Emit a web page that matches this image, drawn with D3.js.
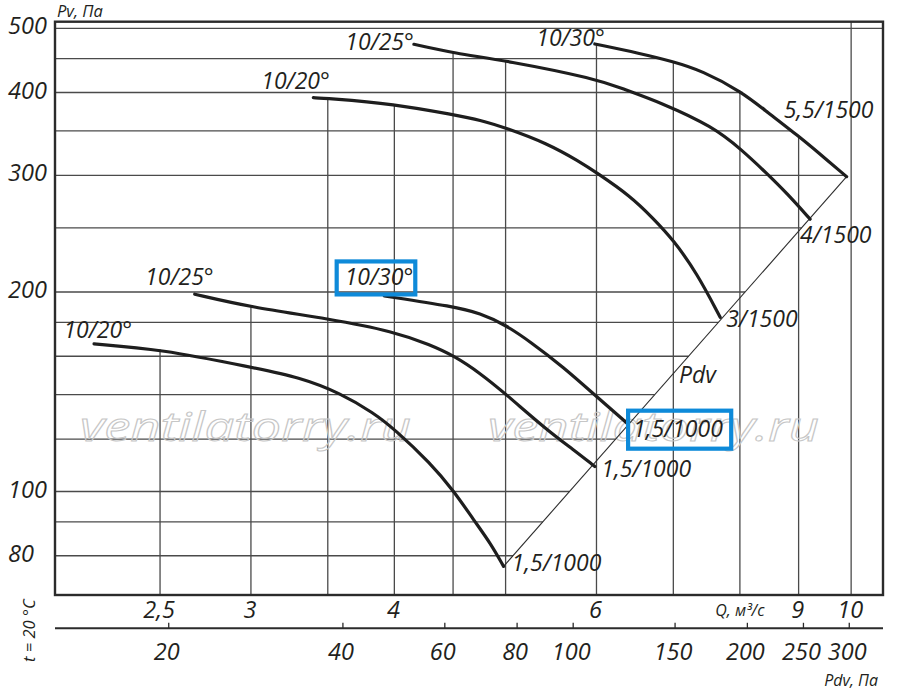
<!DOCTYPE html>
<html><head><meta charset="utf-8">
<script src="https://cdn.jsdelivr.net/npm/d3@7"></script>
<style>
body{margin:0;background:#fff}
svg text{font-family:"Open Sans",sans-serif;font-style:italic;fill:#231f20}
</style></head><body>
<svg id="chart" width="900" height="692"></svg>
<script>
// ---------- DATA ----------
// Q grid lines (m3/s) and labelled Q ticks
const qGrid = [2.5, 3, 3.5, 4, 4.5, 5, 6, 7, 8, 9, 10];
const qLabelVals = [2.5, 3, 4, 6, 9, 10];
const qLabelText = ["2,5", "3", "4", "6", "9", "10"];
// Pv grid lines (Pa) and labelled Pv ticks
const pGrid = [80, 90, 100, 120, 140, 160, 180, 200, 250, 300, 350, 400, 450, 500];
const pLabelVals = [80, 100, 200, 300, 400, 500];
// Pdv axis ticks (Pa)
const pdvTicks = [20, 40, 60, 80, 100, 150, 200, 250, 300];

// curves: 1,5/1000 motor
const q20a = [2.19, 2.5, 3.0, 3.31, 3.59, 3.84, 4.0, 4.3, 4.51, 4.69, 4.85, 4.98];
const p20a = [167, 164, 154, 148.7, 140.7, 131.3, 124.2, 110.4, 100, 90.6, 83.6, 77.1];
const q25a = [2.68, 3.0, 3.51, 4.0, 4.3, 4.51, 4.75, 5.0, 5.43, 5.73, 5.98];
const p25a = [198.5, 189.7, 182.2, 174.3, 166.4, 160.2, 150.9, 140.4, 123.9, 115.6, 109.1];
const q30a = [3.92, 4.51, 4.75, 5.0, 5.25, 5.61, 6.0, 6.38];
const p30a = [197.3, 190.1, 185.8, 178.4, 168.4, 154.3, 139.1, 126.8];
// curves: 3/1500, 4/1500, 5,5/1500 motors
const q20b = [3.40, 3.49, 4.0, 4.51, 4.75, 5.01, 5.43, 5.80, 6.0, 6.42, 6.72, 7.0, 7.34, 7.69];
const p20b = [392.9, 392.1, 384.5, 370.1, 363.7, 353.4, 335.4, 314.6, 302.8, 279.3, 258.5, 239.7, 213.5, 183.2];
const q25b = [4.16, 4.51, 5.01, 6.0, 6.33, 6.82, 7.58, 8.03, 8.44, 8.79, 9.21];
const p25b = [473.0, 458.5, 446.8, 419.4, 404.9, 386.5, 355.3, 327.7, 302.2, 281.9, 257.6];
const q30b = [5.98, 6.55, 7.0, 7.41, 8.03, 8.44, 9.01, 9.39, 9.91];
const p30b = [473.5, 458.2, 445.3, 431.6, 401.1, 374.4, 343.1, 323.2, 298.6];
// Pdv line end points
const qPdv = [4.98, 9.91];
const pPdv = [77.1, 298.6];

const curveLabels = ["10/20°", "10/25°", "10/30°", "10/20°", "10/25°", "10/30°"];
const motorLabels = ["1,5/1000", "1,5/1000", "1,5/1000", "3/1500", "4/1500", "5,5/1500"];

// ---------- CHART ----------
const svg = d3.select("#chart");
const L = 55, R = 883, T = 21.7, B = 595;
const x = d3.scaleLog().domain([2.025, 10.66]).range([L, R]);
const y = d3.scaleLog().domain([69.8, 511.6]).range([B, T]);
const xp = d3.scaleLog().domain([12.72, 343.1]).range([L, R]);

const zip = (qs, ps) => qs.map((q, i) => ({q: q, p: ps[i]}));
const curves = [zip(q20a, p20a), zip(q25a, p25a), zip(q30a, p30a),
                zip(q20b, p20b), zip(q25b, p25b), zip(q30b, p30b)];
const pdvLine = zip(qPdv, pPdv);

// interpolation helpers (pixel space)
function yAtX(c, X) {
  for (let i = 0; i < c.length - 1; i++) {
    const x0 = x(c[i].q), x1 = x(c[i + 1].q);
    if (X >= x0 && X <= x1) {
      const t = (X - x0) / (x1 - x0);
      return y(c[i].p) + t * (y(c[i + 1].p) - y(c[i].p));
    }
  }
  return null;
}
function xAtY(c, Y) {
  for (let i = 0; i < c.length - 1; i++) {
    const y0 = y(c[i].p), y1 = y(c[i + 1].p);
    if (Y >= Math.min(y0, y1) && Y <= Math.max(y0, y1)) {
      const t = (Y - y0) / (y1 - y0);
      return x(c[i].q) + t * (x(c[i + 1].q) - x(c[i].q));
    }
  }
  return null;
}

const grid = svg.append("g").attr("stroke", "#4a4a4a").attr("stroke-width", 1.3);
// vertical grid: from bottom up to the top-most curve
qGrid.forEach(q => {
  let top = null;
  curves.forEach(c => {
    const v = yAtX(c, x(q));
    if (v !== null && (top === null || v < top)) top = v;
  });
  grid.append("line").attr("x1", x(q)).attr("x2", x(q))
    .attr("y1", B).attr("y2", top === null ? T : top);
});
// horizontal grid: from left border to outer boundary (outer curve + Pdv line)
const boundary = curves[5].concat([pdvLine[0]]);
pGrid.forEach(p => {
  const Y = y(p);
  let xe = xAtY(boundary, Y);
  if (Y < y(boundary[0].p)) xe = R;
  grid.append("line").attr("x1", L).attr("x2", xe).attr("y1", Y).attr("y2", Y);
});

// watermark
[80, 488].forEach(wx => {
  svg.append("text").attr("x", wx).attr("y", 441).text("ventilatorry.ru")
    .attr("font-size", 40).attr("textLength", 331).attr("lengthAdjust", "spacingAndGlyphs")
    .style("fill", "none").attr("stroke", "#c6c6c6").attr("stroke-width", 1);
});

// frame
svg.append("rect").attr("x", L).attr("y", T).attr("width", R - L).attr("height", B - T)
  .attr("fill", "none").attr("stroke", "#2b2b2b").attr("stroke-width", 2.4);

// Pdv line
const line = d3.line().x(d => x(d.q)).y(d => y(d.p));
svg.append("path").attr("d", line(pdvLine)).attr("fill", "none")
  .attr("stroke", "#2b2b2b").attr("stroke-width", 1.1);

// curves
const cline = d3.line().x(d => x(d.q)).y(d => y(d.p)).curve(d3.curveBasis);
curves.forEach(c => {
  svg.append("path").attr("d", cline(c)).attr("fill", "none")
    .attr("stroke", "#1e1e1e").attr("stroke-width", 3.2).attr("stroke-linecap", "round");
});

// curve labels (angle) near curve starts, anchored at end
const startOff = [[38, -6], [19, -9], [29, -11], [16.5, -8.5], [0, 5.5], [10, 2.5]];
const startLbls = curves.map((c, i) => svg.append("text")
  .attr("x", x(c[0].q) + startOff[i][0]).attr("y", y(c[0].p) + startOff[i][1])
  .attr("text-anchor", "end").attr("font-size", 23).text(curveLabels[i]));
// motor labels near curve ends
const endOff = [[8, 5], [6.5, 11], [6, 13.5], [6, 9.5], [-10, 24], [-63, -58.5]];
const endLbls = curves.map((c, i) => {
  const e = c[c.length - 1];
  return svg.append("text").attr("x", x(e.q) + endOff[i][0]).attr("y", y(e.p) + endOff[i][1])
    .attr("font-size", 23).text(motorLabels[i]);
});
// Pdv label
svg.append("text").attr("x", x(7.08)).attr("y", y(145.7)).attr("font-size", 23).text("Pdv");

// highlight boxes
function box(t, padL, padR, up, down) {
  const bb = t.node().getBBox();
  const base = +t.attr("y");
  svg.append("rect").attr("x", bb.x - padL).attr("width", bb.width + padL + padR)
    .attr("y", base - up).attr("height", up + down)
    .attr("fill", "none").attr("stroke", "#0e8ad9").attr("stroke-width", 4.2);
}
box(startLbls[2], 8, 2, 23.5, 9.5);
box(endLbls[2], 5, 8, 26, 12);

// Y tick labels
pLabelVals.forEach(v => {
  svg.append("text").attr("x", 8).attr("y", y(v) + 6).attr("font-size", 23.5).text(v);
});
svg.append("text").attr("x", 57).attr("y", 17).attr("font-size", 16.5).text("Pv, Па");

// Q tick labels
qLabelVals.forEach((v, i) => {
  svg.append("text").attr("x", x(v) - 1).attr("y", 617.5).attr("text-anchor", "middle")
    .attr("font-size", 23.5).text(qLabelText[i]);
});
svg.append("text").attr("x", x(8)).attr("y", 616).attr("text-anchor", "middle")
  .attr("font-size", 16).text("Q, м³/с");

// Pdv axis
const pdvY = 628.3;
svg.append("line").attr("x1", L).attr("x2", R).attr("y1", pdvY).attr("y2", pdvY)
  .attr("stroke", "#2b2b2b").attr("stroke-width", 2);
pdvTicks.forEach(v => {
  svg.append("line").attr("x1", xp(v)).attr("x2", xp(v)).attr("y1", pdvY).attr("y2", pdvY - 5.5)
    .attr("stroke", "#2b2b2b").attr("stroke-width", 1.3);
  svg.append("text").attr("x", xp(v) - 2).attr("y", 660).attr("text-anchor", "middle")
    .attr("font-size", 23.5).text(v);
});
svg.append("text").attr("x", 878).attr("y", 686).attr("text-anchor", "end")
  .attr("font-size", 16).text("Pdv, Па");
svg.append("text").attr("transform", "translate(35,662) rotate(-90)")
  .attr("font-size", 16.5).text("t = 20 °C");
</script>
</body></html>
